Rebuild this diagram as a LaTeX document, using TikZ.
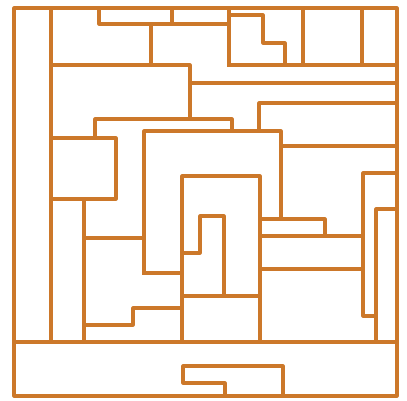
\documentclass[tikz,border=0pt]{standalone}
\definecolor{wallc}{RGB}{204,120,42}
\begin{document}
\begin{tikzpicture}[x=1pt,y=-1pt,
  wall/.style={draw=wallc, line width=3.1pt, line cap=rect, line join=round}]
\useasboundingbox (0,0) rectangle (407,400);
% outer frame and bottom band
\draw[wall] (14,8) rectangle (397,396);
\draw[wall] (14,342) -- (397,342);
\draw[wall] (225,396) -- (225,383) -- (183,383) -- (183,366) -- (283,366) -- (283,396);
% left column
\draw[wall] (51,8) -- (51,342);
% top area
\draw[wall] (99,8) -- (99,24) -- (229,24);
\draw[wall] (172,8) -- (172,24);
\draw[wall] (229,8) -- (229,65);
\draw[wall] (151,24) -- (151,65);
\draw[wall] (51,65) -- (190,65) -- (190,119);
\draw[wall] (229,65) -- (397,65);
\draw[wall] (229,15) -- (263,15) -- (263,43) -- (285,43) -- (285,65);
\draw[wall] (303,8) -- (303,65);
\draw[wall] (362,8) -- (362,65);
\draw[wall] (190,83) -- (397,83);
\draw[wall] (259,131) -- (259,103) -- (397,103);
\draw[wall] (95,138) -- (95,119) -- (232,119) -- (232,131);
\draw[wall] (144,273) -- (144,131) -- (281,131) -- (281,219);
\draw[wall] (281,146) -- (397,146);
% left middle
\draw[wall] (51,138) -- (116,138) -- (116,199) -- (51,199);
\draw[wall] (84,199) -- (84,342);
\draw[wall] (84,238) -- (144,238);
\draw[wall] (144,273) -- (182,273);
\draw[wall] (84,325) -- (133,325) -- (133,308) -- (182,308);
% centre
\draw[wall] (182,342) -- (182,176) -- (260,176) -- (260,342);
\draw[wall] (182,253) -- (200,253) -- (200,216) -- (224,216) -- (224,296);
\draw[wall] (182,296) -- (260,296);
% right middle
\draw[wall] (260,219) -- (325,219) -- (325,236);
\draw[wall] (260,236) -- (363,236);
\draw[wall] (260,269) -- (363,269);
\draw[wall] (397,173) -- (363,173) -- (363,316) -- (376,316);
\draw[wall] (397,209) -- (376,209) -- (376,342);
\end{tikzpicture}
\end{document}
